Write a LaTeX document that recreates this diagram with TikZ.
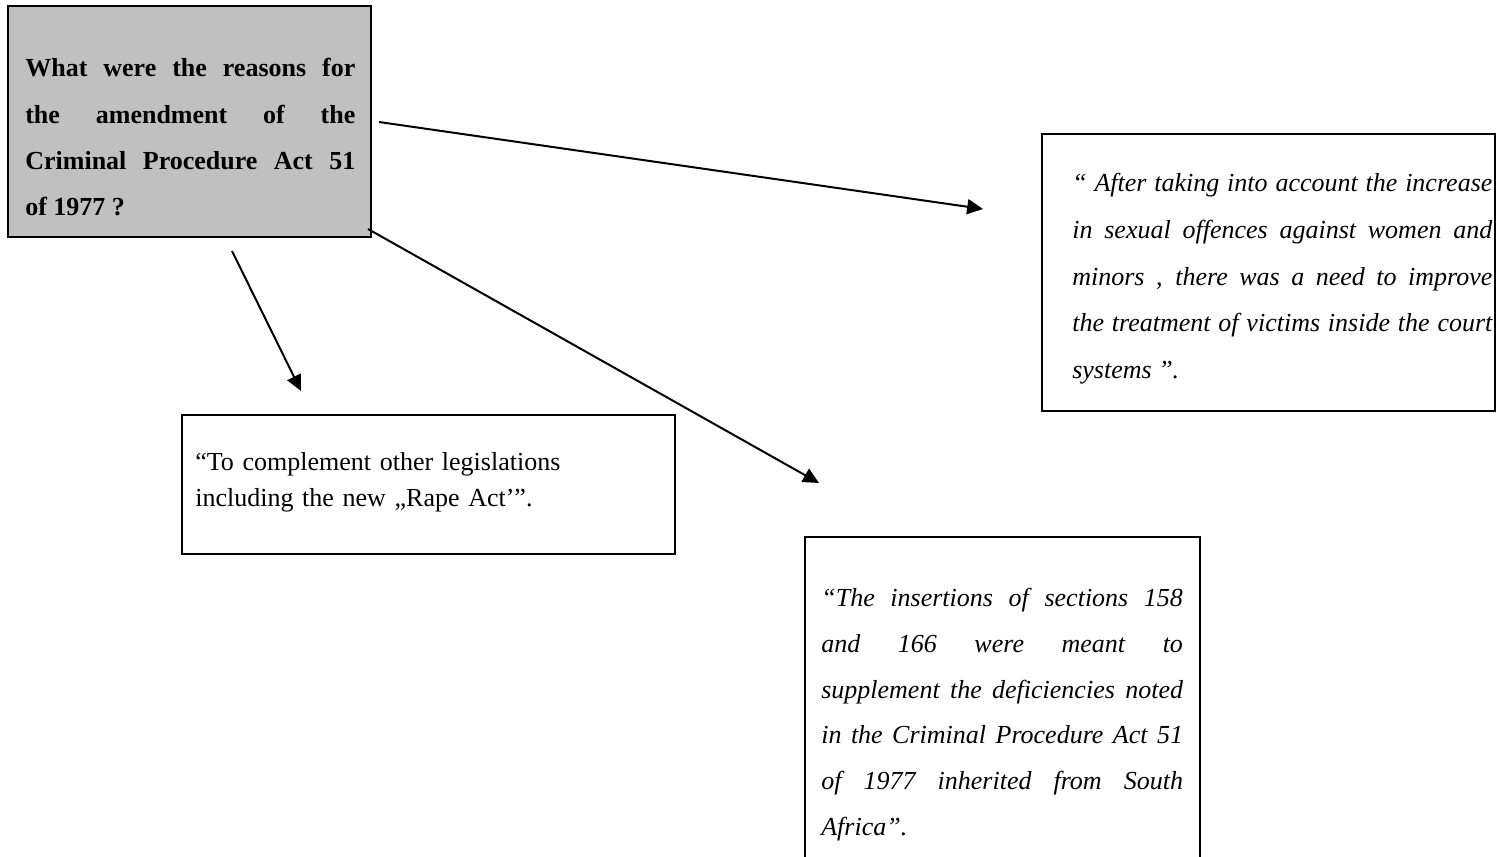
\documentclass[tikz,border=0pt]{standalone}
\usepackage{fontspec}
\setmainfont{Liberation Serif}
\usetikzlibrary{arrows.meta,fit}
\definecolor{qgrey}{HTML}{C0C0C0}

\begin{document}
\begin{tikzpicture}[x=0.6pt,y=-0.6pt,
  frame/.style={draw=black, line width=1.2pt, inner sep=0pt},
  question/.style={frame, fill=qgrey},
  body/.style={anchor=base west, inner sep=0pt, align=justify},
  link/.style={line width=1.2pt, -{Triangle[length=9.5pt,width=9pt]}}]

\useasboundingbox (0,0) rectangle (1496,857);

% frames
\node[question, fit={(8,6) (371,237)}] (q) {};
\node[frame, fit={(1042,134) (1495,411)}] (r1) {};
\node[frame, fit={(182,415) (675,554)}] (r2) {};
\node[frame, fit={(805,537) (1200,880)}] (r3) {};

% texts
\node[body, text width=198pt,
  font=\fontsize{15.6}{27.8}\selectfont\bfseries] (qt) at (25,77)
  {What were the reasons for\linebreak the amendment of the\linebreak Criminal Procedure Act 51\linebreak of 1977 ?};

\node[body, text width=252pt,
  font=\fontsize{15.6}{28}\selectfont\itshape] (r1t) at (1072,192)
  {“ After taking into account the increase\linebreak in sexual offences against women and\linebreak minors , there was a need to improve\linebreak the treatment of victims inside the court\linebreak systems ”.};

\node[body, text width=290pt, align=left,
  font=\fontsize{15.6}{21.6}\selectfont] (r2t) at (195,471)
  {“To complement other legislations\\including the new „Rape Act’”.};

\node[body, text width=217pt,
  font=\fontsize{15.6}{27.4}\selectfont\itshape] (r3t) at (821,607)
  {“The insertions of sections 158\linebreak and 166 were meant to\linebreak supplement the deficiencies noted\linebreak in the Criminal Procedure Act 51\linebreak of 1977 inherited from South\linebreak Africa”.};

% connector ends
\coordinate (a1s) at (379,122);
\coordinate (a1e) at (983,209);
\coordinate (a2s) at (232,251);
\coordinate (a2e) at (301,391);
\coordinate (a3s) at (368,229);
\coordinate (a3e) at (819,483);

\draw[link] (a1s) -- (a1e);
\draw[link] (a2s) -- (a2e);
\draw[link] (a3s) -- (a3e);
\end{tikzpicture}
\end{document}
